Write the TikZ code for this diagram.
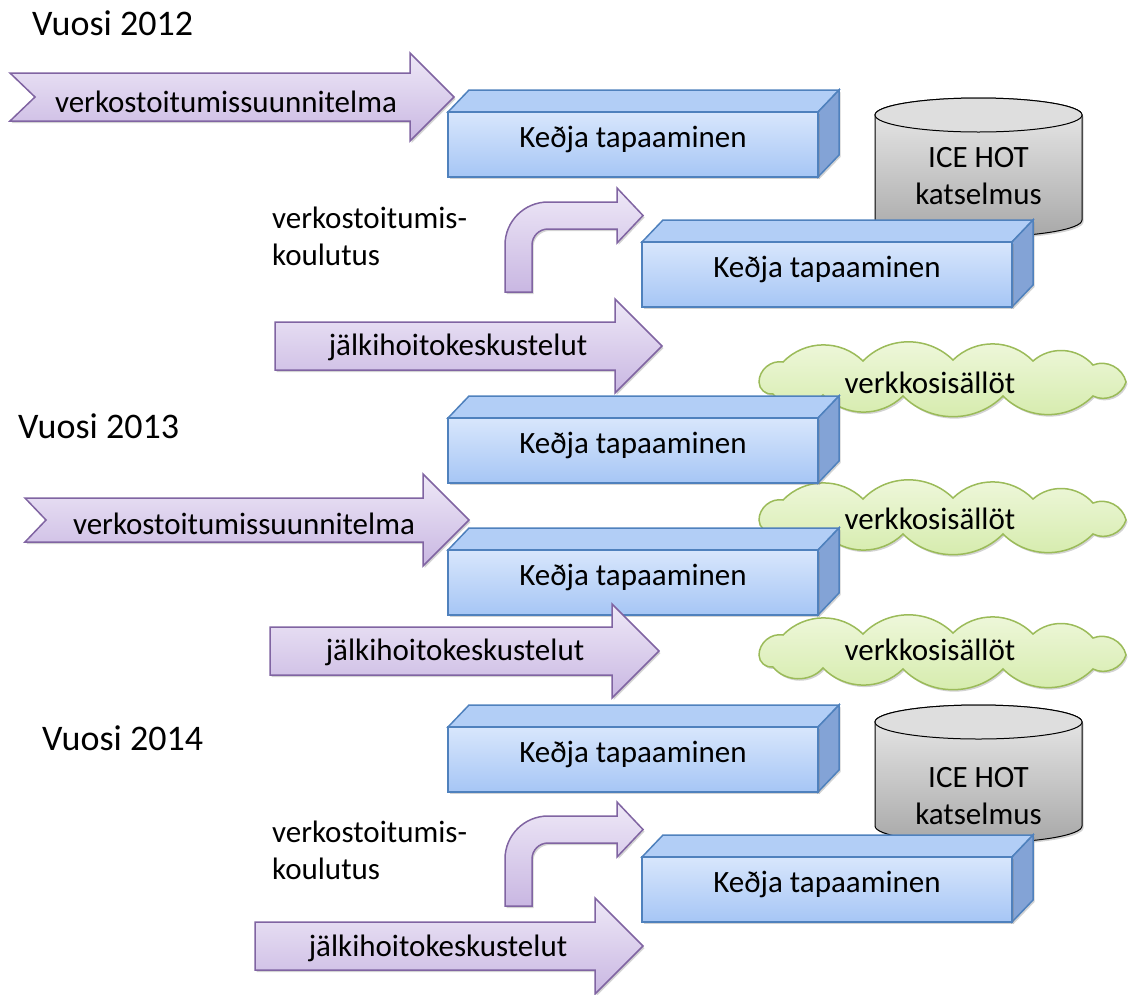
\documentclass[tikz,border=0pt]{standalone}
\usepackage{fontspec}
\setmainfont{Carlito}
\usetikzlibrary{shadows}

\definecolor{arrowline}{RGB}{128,100,162}
\definecolor{arrowtop}{RGB}{238,232,247}
\definecolor{arrowbottom}{RGB}{201,183,226}
\definecolor{boxline}{RGB}{79,129,189}
\definecolor{boxfronttop}{RGB}{216,230,252}
\definecolor{boxfrontbottom}{RGB}{166,198,245}
\definecolor{boxtopcol}{RGB}{178,206,246}
\definecolor{boxsidecol}{RGB}{131,163,214}
\definecolor{cylbodytop}{RGB}{236,236,236}
\definecolor{cylbodybottom}{RGB}{168,168,168}
\definecolor{cyltopcol}{RGB}{222,222,222}
\definecolor{cloudline}{RGB}{155,187,89}
\definecolor{cloudtop}{RGB}{240,248,222}
\definecolor{cloudbottom}{RGB}{212,235,170}

\tikzset{
    pics/webcloud/.style={code={
        \draw[cloudfill] (-184,4) to[bend left=50] (-160,-16) to[bend left=45] (-80,-17)
            to[bend left=45] (10,-18) to[bend left=45] (90,-17) to[bend left=45] (150,-13)
            to[bend left=50] (183,4) to[bend left=50] (150,18) to[bend left=45] (60,18)
            to[bend left=45] (-40,18) to[bend left=45] (-120,17) to[bend left=50] (-170,16)
            to[bend left=50] (-184,4) -- cycle;
    }}
}

\begin{document}
\begin{tikzpicture}[x=1pt,y=-1pt,
    lbl/.style={font=\fontsize{31}{37}\selectfont, inner sep=0pt},
    yearlbl/.style={font=\fontsize{36}{43}\selectfont, inner sep=0pt, anchor=west},
    softshadow/.style={drop shadow={shadow xshift=1.5pt, shadow yshift=-2pt, opacity=0.35}},
    blockarrow/.style={draw=arrowline, line width=1.5pt, top color=arrowtop, bottom color=arrowbottom, softshadow},
    boxfront/.style={draw=boxline, line width=1.5pt, top color=boxfronttop, bottom color=boxfrontbottom, softshadow},
    boxtop/.style={draw=boxline, line width=1.5pt, fill=boxtopcol},
    boxside/.style={draw=boxline, line width=1.5pt, fill=boxsidecol, softshadow},
    cylbody/.style={draw=black, line width=1pt, top color=cylbodytop, bottom color=cylbodybottom, softshadow},
    cyltop/.style={draw=black, line width=1pt, fill=cyltopcol},
    cloudfill/.style={draw=cloudline, line width=1.5pt, top color=cloudtop, bottom color=cloudbottom, softshadow}]
    \useasboundingbox (0,0) rectangle (1138,994);

    % years
    \node[yearlbl] (y2012) at (32,23.5) {Vuosi 2012};
    \node[yearlbl] (y2013) at (18,426.5) {Vuosi 2013};
    \node[yearlbl] (y2014) at (42,738) {Vuosi 2014};

    % clouds
    \pic (web1) at (943,378) {webcloud};
    \pic (web2) at (943,516) {webcloud};
    \pic (web3) at (943,651) {webcloud};
    \node[lbl] (web1txt) at (930,383) {verkkosisällöt};
    \node[lbl] (web2txt) at (930,519) {verkkosisällöt};
    \node[lbl] (web3txt) at (930,650) {verkkosisällöt};

    % cylinders
    \coordinate (ice1) at (978.5,115);
    \coordinate (ice2) at (978.5,722);

    \draw[cylbody] (ice1) ++(-103.5,0) -- ++(0,105) arc[start angle=180,end angle=0,x radius=103.5,y radius=17]
        -- ++(0,-105) arc[start angle=0,end angle=-180,x radius=103.5,y radius=17] -- cycle;
    \draw[cyltop] (ice1) ellipse[x radius=103.5,y radius=17];
    \node[lbl, align=center] (ice1txt) at (978.5,176) {ICE HOT\\katselmus};

    \draw[cylbody] (ice2) ++(-103.5,0) -- ++(0,104) arc[start angle=180,end angle=0,x radius=103.5,y radius=17]
        -- ++(0,-104) arc[start angle=0,end angle=-180,x radius=103.5,y radius=17] -- cycle;
    \draw[cyltop] (ice2) ellipse[x radius=103.5,y radius=17];
    \node[lbl, align=center] (ice2txt) at (978.5,796) {ICE HOT\\katselmus};

    % meeting boxes
    \coordinate (meet1) at (448,112);
    \coordinate (meet2) at (642,242);
    \coordinate (meet3) at (448,418);
    \coordinate (meet4) at (448,550);
    \coordinate (meet5) at (448,727);
    \coordinate (meet6) at (642,857);

    \draw[boxtop] (meet1) -- ++(21,-22) -- ++(370,0) -- ++(-21,22) -- cycle;
    \draw[boxside] (meet1) ++(370,0) -- ++(21,-22) -- ++(0,65) -- ++(-21,22) -- cycle;
    \draw[boxfront] (meet1) rectangle ++(370,65);

    \draw[boxtop] (meet2) -- ++(21,-22) -- ++(370,0) -- ++(-21,22) -- cycle;
    \draw[boxside] (meet2) ++(370,0) -- ++(21,-22) -- ++(0,65) -- ++(-21,22) -- cycle;
    \draw[boxfront] (meet2) rectangle ++(370,65);

    \draw[boxtop] (meet3) -- ++(21,-22) -- ++(370,0) -- ++(-21,22) -- cycle;
    \draw[boxside] (meet3) ++(370,0) -- ++(21,-22) -- ++(0,65) -- ++(-21,22) -- cycle;
    \draw[boxfront] (meet3) rectangle ++(370,65);

    \draw[boxtop] (meet4) -- ++(21,-22) -- ++(370,0) -- ++(-21,22) -- cycle;
    \draw[boxside] (meet4) ++(370,0) -- ++(21,-22) -- ++(0,65) -- ++(-21,22) -- cycle;
    \draw[boxfront] (meet4) rectangle ++(370,65);

    \draw[boxtop] (meet5) -- ++(21,-22) -- ++(370,0) -- ++(-21,22) -- cycle;
    \draw[boxside] (meet5) ++(370,0) -- ++(21,-22) -- ++(0,65) -- ++(-21,22) -- cycle;
    \draw[boxfront] (meet5) rectangle ++(370,65);

    \draw[boxtop] (meet6) -- ++(21,-22) -- ++(370,0) -- ++(-21,22) -- cycle;
    \draw[boxside] (meet6) ++(370,0) -- ++(21,-22) -- ++(0,65) -- ++(-21,22) -- cycle;
    \draw[boxfront] (meet6) rectangle ++(370,65);

    \node[lbl] (meet1txt) at (633,139) {Keðja tapaaminen};
    \node[lbl] (meet2txt) at (827,269) {Keðja tapaaminen};
    \node[lbl] (meet3txt) at (633,445) {Keðja tapaaminen};
    \node[lbl] (meet4txt) at (633,577) {Keðja tapaaminen};
    \node[lbl] (meet5txt) at (633,754) {Keðja tapaaminen};
    \node[lbl] (meet6txt) at (827,884) {Keðja tapaaminen};

    % plan arrows (notched)
    \coordinate (plan1) at (10,97);
    \coordinate (plan2) at (25,520);
    \draw[blockarrow] (plan1) ++(0,-24) -- ++(400,0) -- ++(0,-20) -- ++(44,44) -- ++(-44,44)
        -- ++(0,-20) -- ++(-400,0) -- ++(25,-24) -- cycle;
    \draw[blockarrow] (plan2) ++(0,-22) -- ++(398,0) -- ++(0,-24) -- ++(46,46) -- ++(-46,46)
        -- ++(0,-24) -- ++(-398,0) -- ++(21,-22) -- cycle;
    \node[lbl] (plan1txt) at (226,102) {verkostoitumissuunnitelma};
    \node[lbl] (plan2txt) at (244,524) {verkostoitumissuunnitelma};

    % follow-up arrows
    \coordinate (after1) at (275,346);
    \coordinate (after2) at (270,651);
    \coordinate (after3) at (255,946);
    \draw[blockarrow] (after1) ++(0,-24) -- ++(340,0) -- ++(0,-23) -- ++(47,47) -- ++(-47,47)
        -- ++(0,-23) -- ++(-340,0) -- cycle;
    \draw[blockarrow] (after2) ++(0,-24) -- ++(342,0) -- ++(0,-23) -- ++(47,47) -- ++(-47,47)
        -- ++(0,-23) -- ++(-342,0) -- cycle;
    \draw[blockarrow] (after3) ++(0,-24) -- ++(340,0) -- ++(0,-24) -- ++(48,48) -- ++(-48,48)
        -- ++(0,-24) -- ++(-340,0) -- cycle;
    \node[lbl] (after1txt) at (458,347) {jälkihoitokeskustelut};
    \node[lbl] (after2txt) at (455,652) {jälkihoitokeskustelut};
    \node[lbl] (after3txt) at (438,948) {jälkihoitokeskustelut};

    % training: bent arrows
    \coordinate (turn1) at (505,292);
    \coordinate (turn2) at (505,906);
    \draw[blockarrow] (turn1) -- ++(0,-47) arc[start angle=180,end angle=270,radius=43] -- ++(69,0)
        -- ++(0,-14) -- ++(26,27.5) -- ++(-26,27.5) -- ++(0,-14) -- ++(-69,0)
        arc[start angle=270,end angle=180,radius=16] -- ++(0,47) -- cycle;
    \draw[blockarrow] (turn2) -- ++(0,-47) arc[start angle=180,end angle=270,radius=43] -- ++(69,0)
        -- ++(0,-14) -- ++(26,27.5) -- ++(-26,27.5) -- ++(0,-14) -- ++(-69,0)
        arc[start angle=270,end angle=180,radius=16] -- ++(0,47) -- cycle;
    \node[lbl, align=left, anchor=west] (train1txt) at (272,236) {verkostoitumis-\\koulutus};
    \node[lbl, align=left, anchor=west] (train2txt) at (272,850) {verkostoitumis-\\koulutus};
\end{tikzpicture}
\end{document}
